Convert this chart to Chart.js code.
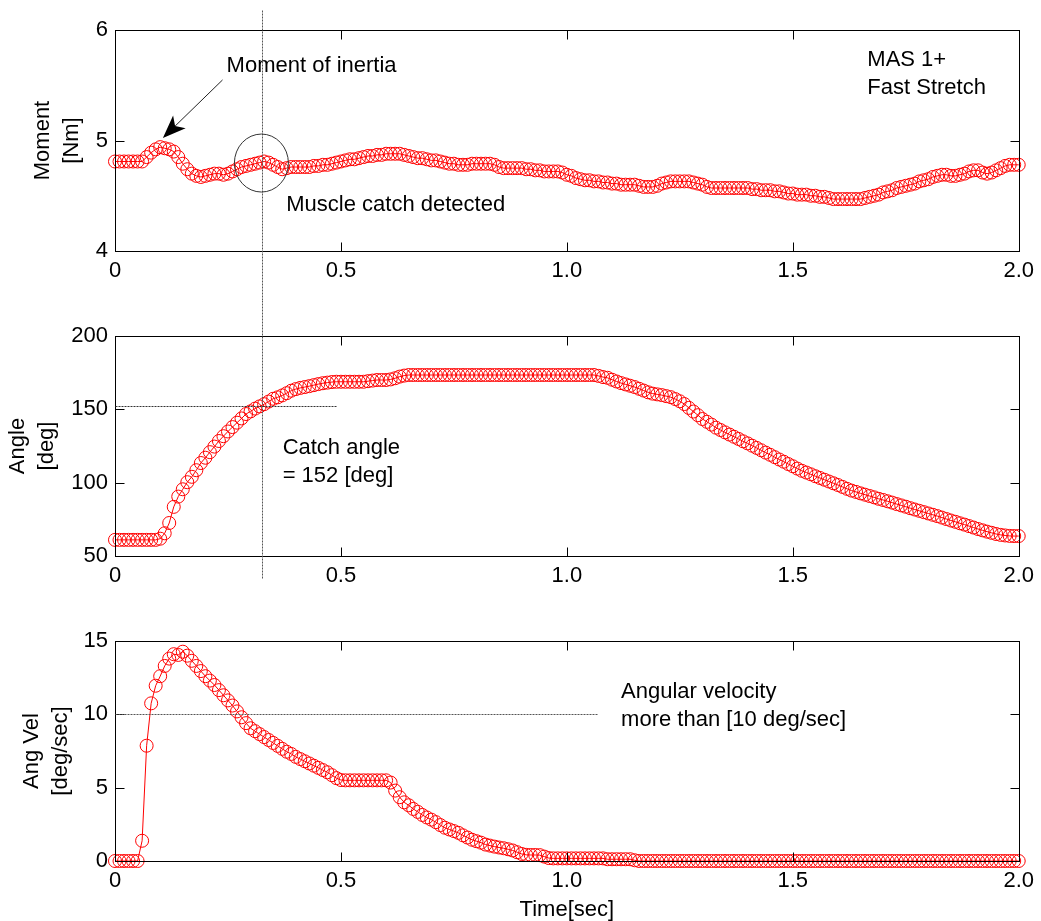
<!DOCTYPE html>
<html>
<head>
<meta charset="utf-8">
<title>Muscle catch - fast stretch</title>
<script src="https://cdn.jsdelivr.net/npm/chart.js@4.4.0/dist/chart.umd.min.js"></script>
<style>
  body { margin: 0; background: #fff; }
  .wrap { position: relative; width: 1041px; height: 921px; overflow: hidden; }
  canvas { position: absolute; left: 0; }
</style>
</head>
<body>
<div class="wrap">
  <canvas id="momentChart" width="1041" height="300" style="top:0px"></canvas>
  <canvas id="angleChart" width="1041" height="300" style="top:300px"></canvas>
  <canvas id="velChart" width="1041" height="321" style="top:600px"></canvas>
</div>
<script>
const SAMPLE_DT = 0.01;

const momentNm = [
  4.81, 4.81, 4.81, 4.81, 4.81, 4.81, 4.81, 4.85, 4.89, 4.92,
  4.94, 4.93, 4.92, 4.90, 4.85, 4.79, 4.74, 4.70, 4.68, 4.67,
  4.68, 4.69, 4.70, 4.70, 4.69, 4.70, 4.72, 4.74, 4.76, 4.77,
  4.78, 4.79, 4.80, 4.81, 4.80, 4.78, 4.76, 4.74, 4.75, 4.76,
  4.76, 4.76, 4.76, 4.76, 4.77, 4.77, 4.78, 4.78, 4.79, 4.80,
  4.81, 4.82, 4.83, 4.83, 4.84, 4.85, 4.86, 4.86, 4.87, 4.87,
  4.88, 4.88, 4.88, 4.88, 4.87, 4.86, 4.85, 4.84, 4.84, 4.83,
  4.82, 4.82, 4.81, 4.80, 4.79, 4.79, 4.78, 4.78, 4.78, 4.79,
  4.79, 4.79, 4.79, 4.79, 4.78, 4.76, 4.75, 4.75, 4.75, 4.75,
  4.75, 4.74, 4.74, 4.73, 4.73, 4.72, 4.72, 4.72, 4.72, 4.71,
  4.69, 4.68, 4.66, 4.65, 4.64, 4.64, 4.63, 4.63, 4.62, 4.62,
  4.61, 4.61, 4.60, 4.60, 4.60, 4.60, 4.59, 4.58, 4.58, 4.58,
  4.59, 4.61, 4.62, 4.63, 4.63, 4.63, 4.63, 4.63, 4.62, 4.61,
  4.60, 4.58, 4.57, 4.57, 4.57, 4.57, 4.57, 4.57, 4.57, 4.57,
  4.57, 4.56, 4.56, 4.55, 4.55, 4.55, 4.54, 4.54, 4.53, 4.52,
  4.52, 4.51, 4.51, 4.51, 4.50, 4.50, 4.49, 4.49, 4.48, 4.47,
  4.47, 4.47, 4.47, 4.47, 4.47, 4.47, 4.48, 4.49, 4.50, 4.51,
  4.53, 4.54, 4.55, 4.57, 4.58, 4.59, 4.60, 4.61, 4.63, 4.64,
  4.65, 4.67, 4.68, 4.69, 4.69, 4.68, 4.68, 4.69, 4.70, 4.72,
  4.73, 4.73, 4.71, 4.70, 4.71, 4.73, 4.75, 4.77, 4.78, 4.78,
  4.78
];

const angleDeg = [
  61, 61, 61, 61, 61, 61, 61, 61, 61, 61,
  61.8, 65.5, 72.5, 83.5, 90.5, 95.5, 100.3, 104, 108.5, 113.4,
  117, 120.8, 124.6, 128.4, 131.7, 134.9, 137.9, 140.9, 143.8, 146.8,
  148.6, 150.5, 152, 153.5, 155.3, 157.2, 158.2, 159.5, 161, 162.7,
  163.8, 164.6, 165.2, 165.8, 166.5, 167.2, 167.8, 168.2, 168.6, 168.8,
  168.8, 168.8, 168.8, 168.8, 168.8, 168.8, 169.2, 169.6, 170, 170,
  170, 170.4, 171.2, 172.3, 173, 173.4, 173.4, 173.4, 173.4, 173.4,
  173.4, 173.4, 173.4, 173.4, 173.4, 173.4, 173.4, 173.4, 173.4, 173.4,
  173.4, 173.4, 173.4, 173.4, 173.4, 173.4, 173.4, 173.4, 173.4, 173.4,
  173.4, 173.4, 173.4, 173.4, 173.4, 173.4, 173.4, 173.4, 173.4, 173.4,
  173.4, 173.4, 173.4, 173.4, 173.4, 173.4, 173.4, 172.8, 172, 171.5,
  170.2, 169, 167.9, 167, 166.1, 165.2, 164, 162.8, 161.6, 160.7,
  160.2, 159.7, 159, 158.3, 157, 155.5, 153.6, 151, 148.5, 146,
  143.4, 141.5, 139.6, 137.5, 135.9, 134.3, 132.8, 131.3, 129.8, 128.2,
  126.8, 125.2, 123.7, 122.1, 120.5, 119, 117.4, 115.8, 114.3, 112.7,
  111.2, 109.6, 108.1, 106.9, 105.7, 104.4, 103.2, 102, 100.8, 99.6,
  98.4, 97.1, 95.8, 94.6, 93.7, 92.7, 91.8, 90.9, 90, 89,
  88.2, 87.3, 86.4, 85.4, 84.5, 83.6, 82.6, 81.7, 80.8, 79.9,
  79, 78.1, 77.2, 76.2, 75.2, 74.2, 73.3, 72.3, 71.4, 70.4,
  69.4, 68.4, 67.5, 66.6, 65.8, 65, 64.4, 64, 63.7, 63.6,
  63.6
];

const angVel = [
  0, 0, 0, 0, 0, 0, 1.38, 7.86, 10.75, 11.95,
  12.6, 13.3, 13.8, 14.1, 14.05, 14.27, 14.0, 13.65, 13.3, 12.95,
  12.6, 12.3, 12.0, 11.65, 11.3, 10.95, 10.6, 10.2, 9.8, 9.4,
  9.05, 8.85, 8.65, 8.45, 8.25, 8.05, 7.85, 7.65, 7.45, 7.3,
  7.1, 6.95, 6.8, 6.65, 6.5, 6.35, 6.2, 6.05, 5.85, 5.65,
  5.52, 5.5, 5.5, 5.5, 5.5, 5.5, 5.5, 5.5, 5.5, 5.5,
  5.5, 5.35, 4.8, 4.35, 4.0, 3.8, 3.55, 3.35, 3.14, 2.97,
  2.82, 2.65, 2.45, 2.27, 2.15, 2.04, 1.92, 1.75, 1.6, 1.45,
  1.35, 1.25, 1.12, 1.05, 0.98, 0.92, 0.87, 0.8, 0.72, 0.6,
  0.48, 0.42, 0.41, 0.41, 0.4, 0.3, 0.2, 0.18, 0.18, 0.18,
  0.18, 0.18, 0.18, 0.18, 0.18, 0.18, 0.18, 0.18, 0.18, 0.12,
  0.12, 0.12, 0.12, 0.12, 0.12, 0.05, 0, 0, 0, 0,
  0, 0, 0, 0, 0, 0, 0, 0, 0, 0,
  0, 0, 0, 0, 0, 0, 0, 0, 0, 0,
  0, 0, 0, 0, 0, 0, 0, 0, 0, 0,
  0, 0, 0, 0, 0, 0, 0, 0, 0, 0,
  0, 0, 0, 0, 0, 0, 0, 0, 0, 0,
  0, 0, 0, 0, 0, 0, 0, 0, 0, 0,
  0, 0, 0, 0, 0, 0, 0, 0, 0, 0,
  0, 0, 0, 0, 0, 0, 0, 0, 0, 0,
  0
];

const sampleTimes = momentNm.map((_, i) => i * SAMPLE_DT);

const xTicks = [0, 0.5, 1.0, 1.5, 2.0];
const CATCH_TIME = 0.326;
const CATCH_ANGLE = 152;
const VEL_THRESHOLD = 10;

const FONT = "'Liberation Sans', Arial, Helvetica, sans-serif";
const TICK_LEN = 9;
const LINE_GAP = 28;

// box, inward ticks on all four sides (MATLAB look)
const frameTicks = {
  id: 'frameTicks',
  afterDraw(chart) {
    const { ctx, chartArea: a, scales: { x, y } } = chart;
    const L = Math.round(a.left) + 0.5, R = Math.round(a.right) + 0.5;
    const T = Math.round(a.top) + 0.5, B = Math.round(a.bottom) + 0.5;
    ctx.save();
    ctx.strokeStyle = '#000';
    ctx.lineWidth = 1;
    ctx.beginPath();
    x.ticks.forEach(tk => {
      const px = Math.round(x.getPixelForValue(tk.value)) + 0.5;
      ctx.moveTo(px, B); ctx.lineTo(px, B - TICK_LEN);
      ctx.moveTo(px, T); ctx.lineTo(px, T + TICK_LEN);
    });
    y.ticks.forEach(tk => {
      const py = Math.round(y.getPixelForValue(tk.value)) + 0.5;
      ctx.moveTo(L, py); ctx.lineTo(L + TICK_LEN, py);
      ctx.moveTo(R, py); ctx.lineTo(R - TICK_LEN, py);
    });
    ctx.stroke();
    ctx.strokeRect(L, T, R - L, B - T);
    ctx.restore();
  }
};

// annotations given in data units
function notesPlugin(notes) {
  return {
    id: 'notes',
    afterDraw(chart) {
      const { ctx, scales: { x, y } } = chart;
      const px = t => x.getPixelForValue(t);
      const py = v => y.getPixelForValue(v);
      ctx.save();
      (notes.lines || []).forEach(l => {
        ctx.strokeStyle = l.color;
        ctx.lineWidth = 1;
        ctx.setLineDash(l.dash || []);
        ctx.beginPath();
        ctx.moveTo(Math.round(px(l.from[0])) + 0.5, Math.round(py(l.from[1])) + 0.5);
        ctx.lineTo(Math.round(px(l.to[0])) + 0.5, Math.round(py(l.to[1])) + 0.5);
        ctx.stroke();
      });
      ctx.setLineDash([]);
      if (notes.ellipse) {
        const e = notes.ellipse;
        ctx.strokeStyle = '#333';
        ctx.beginPath();
        ctx.ellipse(px(e.t), py(e.v), e.rx, e.ry, 0, 0, Math.PI * 2);
        ctx.stroke();
      }
      if (notes.arrow) {
        const a = notes.arrow;
        const x0 = px(a.from[0]), y0 = py(a.from[1]);
        const x1 = px(a.to[0]), y1 = py(a.to[1]);
        const len = Math.hypot(x1 - x0, y1 - y0);
        const ux = (x1 - x0) / len, uy = (y1 - y0) / len;
        const head = 23, half = 9, notch = 6;
        ctx.strokeStyle = '#222';
        ctx.beginPath();
        ctx.moveTo(x0, y0);
        ctx.lineTo(x1 - ux * (head - notch), y1 - uy * (head - notch));
        ctx.stroke();
        ctx.fillStyle = '#000';
        ctx.beginPath();
        ctx.moveTo(x1, y1);
        ctx.lineTo(x1 - ux * head - uy * half, y1 - uy * head + ux * half);
        ctx.lineTo(x1 - ux * (head - notch), y1 - uy * (head - notch));
        ctx.lineTo(x1 - ux * head + uy * half, y1 - uy * head - ux * half);
        ctx.closePath();
        ctx.fill();
      }
      ctx.fillStyle = '#000';
      ctx.font = '22px ' + FONT;
      ctx.textAlign = 'left';
      ctx.textBaseline = 'middle';
      (notes.texts || []).forEach(tx => {
        tx.lines.forEach((s, i) => ctx.fillText(s, px(tx.t), py(tx.v) + i * LINE_GAP));
      });
      ctx.restore();
    }
  };
}

function makePanel(id, values, cfg) {
  const points = sampleTimes.map((t, i) => ({ x: t, y: values[i] }));
  const font = { family: FONT, size: 22 };
  return new Chart(document.getElementById(id), {
    type: 'line',
    data: {
      datasets: [{
        data: points,
        borderColor: 'red',
        borderWidth: 1,
        pointStyle: 'circle',
        pointRadius: 6.5,
        pointBorderColor: 'red',
        pointBackgroundColor: 'rgba(0,0,0,0)',
        pointBorderWidth: 1,
        tension: 0,
        clip: false
      }]
    },
    options: {
      responsive: false,
      animation: false,
      events: [],
      layout: { padding: { left: 0, right: 19, top: cfg.top, bottom: 0 } },
      plugins: { legend: { display: false }, tooltip: { enabled: false } },
      scales: {
        x: {
          type: 'linear',
          min: 0,
          max: 2,
          grid: { display: false, drawTicks: false },
          border: { display: false },
          afterBuildTicks: s => { s.ticks = xTicks.map(v => ({ value: v })); },
          ticks: {
            padding: 7,
            color: '#000',
            font: font,
            callback: v => v === 0 ? '0' : Number(v).toFixed(1)
          },
          title: cfg.xTitle ? {
            display: true, text: cfg.xTitle, color: '#000',
            font: { family: FONT, size: 22, lineHeight: 1 },
            padding: { top: 0, bottom: 0 }
          } : { display: false },
          afterFit: s => { s.height = cfg.xHeight; }
        },
        y: {
          type: 'linear',
          min: cfg.yMin,
          max: cfg.yMax,
          grid: { display: false, drawTicks: false },
          border: { display: false },
          ticks: { stepSize: cfg.yStep, padding: 7, color: '#000', font: font },
          title: {
            display: true, text: cfg.yTitle, color: '#000',
            font: { family: FONT, size: 22, lineHeight: 1.3 },
            padding: { top: cfg.titlePad, bottom: 0 }
          },
          afterFit: s => { s.width = 115; }
        }
      }
    },
    plugins: [frameTicks, notesPlugin(cfg.notes)]
  });
}

makePanel('momentChart', momentNm, {
  top: 30, xHeight: 49, yMin: 4, yMax: 6, yStep: 1,
  yTitle: ['Moment', '[Nm]'], titlePad: 29,
  notes: {
    lines: [{ from: [CATCH_TIME, 6.18], to: [CATCH_TIME, 3.55], color: '#555', dash: [2, 1] }],
    ellipse: { t: 0.324, v: 4.796, rx: 27, ry: 29 },
    arrow: { from: [0.238, 5.548], to: [0.106, 5.023] },
    texts: [
      { t: 0.247, v: 5.674, lines: ['Moment of inertia'] },
      { t: 0.379, v: 4.416, lines: ['Muscle catch detected'] },
      { t: 1.665, v: 5.728, lines: ['MAS 1+', 'Fast Stretch'] }
    ]
  }
});

makePanel('angleChart', angleDeg, {
  top: 36, xHeight: 44, yMin: 50, yMax: 200, yStep: 50,
  yTitle: ['Angle', '[deg]'], titlePad: 4,
  notes: {
    lines: [
      { from: [CATCH_TIME, 224.5], to: [CATCH_TIME, 35], color: '#555', dash: [2, 1] },
      { from: [0, CATCH_ANGLE], to: [0.492, CATCH_ANGLE], color: '#333', dash: [2, 1] }
    ],
    texts: [{ t: 0.371, v: 123.6, lines: ['Catch angle', '= 152 [deg]'] }]
  }
});

makePanel('velChart', angVel, {
  top: 41, xHeight: 60, yMin: 0, yMax: 15, yStep: 5,
  yTitle: ['Ang Vel', '[deg/sec]'], titlePad: 18,
  xTitle: 'Time[sec]',
  notes: {
    lines: [{ from: [0, VEL_THRESHOLD], to: [1.067, VEL_THRESHOLD], color: '#555', dash: [2, 1] }],
    texts: [{ t: 1.12, v: 11.52, lines: ['Angular velocity', 'more than [10 deg/sec]'] }]
  }
});
</script>
</body>
</html>
